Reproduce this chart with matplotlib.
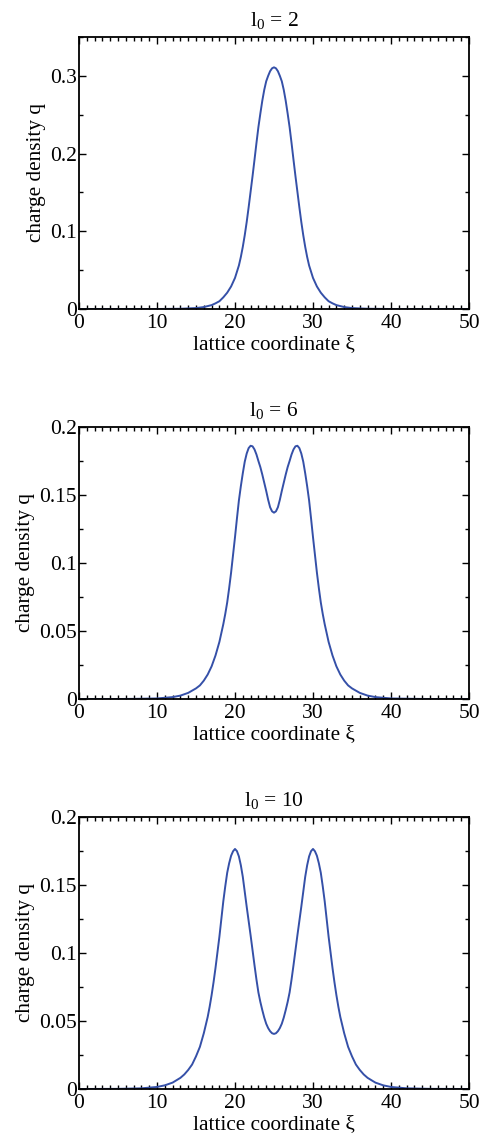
import matplotlib
matplotlib.use("Agg")
import matplotlib.pyplot as plt
from matplotlib.ticker import MultipleLocator, FuncFormatter

plt.rcParams['font.family'] = ['Liberation Serif', 'DejaVu Serif']
plt.rcParams['mathtext.fontset'] = 'custom'
plt.rcParams['mathtext.rm'] = 'Liberation Serif'
plt.rcParams['mathtext.it'] = 'Liberation Serif:italic'

# ---------------- data ----------------
titles = ["l$_\\mathrm{0}$ = 2", "l$_\\mathrm{0}$ = 6", "l$_\\mathrm{0}$ = 10"]

x1 = [0, 5, 10, 13, 15, 16, 17, 17.5, 18, 18.5,
      19, 19.5, 20, 20.5, 20.75, 21, 21.25, 21.5, 21.75, 22,
      22.25, 22.5, 22.75, 23, 23.25, 23.5, 23.75, 24, 24.25, 24.5,
      24.75, 25, 25.25, 25.5, 25.75, 26, 26.25, 26.5, 26.75, 27,
      27.25, 27.5, 27.75, 28, 28.25, 28.5, 28.75, 29, 29.25, 29.5,
      30, 30.5, 31, 31.5, 32, 32.5, 33, 34, 35, 37,
      40, 45, 50]
q1 = [0, 0, 0, 0.0003, 0.0012, 0.0025, 0.005, 0.0073, 0.010, 0.015,
      0.021, 0.029, 0.040, 0.056, 0.067, 0.080, 0.095, 0.112, 0.131, 0.151,
      0.171, 0.192, 0.2135, 0.234, 0.2515, 0.268, 0.282, 0.293, 0.300, 0.306,
      0.3097, 0.311, 0.3097, 0.306, 0.300, 0.293, 0.282, 0.268, 0.2515, 0.234,
      0.2135, 0.192, 0.171, 0.151, 0.131, 0.112, 0.095, 0.080, 0.067, 0.056,
      0.040, 0.029, 0.021, 0.015, 0.010, 0.0073, 0.005, 0.0025, 0.0012, 0.0003,
      0, 0, 0]

x2 = [0, 5, 7, 10, 12, 13, 14, 15, 15.5, 16,
      16.5, 17, 17.5, 18, 18.5, 18.75, 19, 19.25, 19.5, 19.75,
      20, 20.25, 20.5, 20.75, 21, 21.25, 21.5, 21.75, 22, 22.25,
      22.5, 22.75, 23, 23.25, 23.5, 23.75, 24, 24.25, 24.5, 24.75,
      25,
      25.25, 25.5, 25.75, 26, 26.25, 26.5, 26.75, 27, 27.25, 27.5,
      27.75, 28, 28.25, 28.5, 28.75, 29, 29.25, 29.5, 29.75, 30,
      30.25, 30.5, 30.75, 31, 31.25, 31.5, 32, 32.5, 33, 33.5,
      34, 34.5, 35, 36, 37, 38, 40, 43, 45, 50]
q2 = [0, 0, 0.0001, 0.0004, 0.0014, 0.0025, 0.0045, 0.0078, 0.010, 0.0135,
      0.018, 0.024, 0.032, 0.042, 0.055, 0.0625, 0.071, 0.0815, 0.093, 0.106,
      0.119, 0.1328, 0.146, 0.1565, 0.166, 0.1745, 0.1805, 0.1845, 0.1862, 0.1858,
      0.1835, 0.1798, 0.175, 0.1705, 0.165, 0.159, 0.153, 0.1465, 0.141, 0.138,
      0.137,
      0.138, 0.141, 0.1465, 0.153, 0.159, 0.165, 0.1705, 0.175, 0.1798, 0.1835,
      0.1858, 0.1862, 0.1845, 0.1805, 0.1745, 0.166, 0.1565, 0.146, 0.1328, 0.119,
      0.106, 0.093, 0.0815, 0.071, 0.0625, 0.055, 0.042, 0.032, 0.024, 0.018,
      0.0135, 0.010, 0.0078, 0.0045, 0.0025, 0.0014, 0.0004, 0.0001, 0, 0]

x3 = [0, 5, 8, 10, 11, 12, 13, 13.5, 14, 14.5,
      15, 15.5, 16, 16.5, 16.75, 17, 17.25, 17.5, 17.75, 18,
      18.25, 18.5, 18.75, 19, 19.25, 19.5, 19.75, 20, 20.25, 20.5,
      20.75, 21, 21.25, 21.5, 21.75, 22, 22.25, 22.5, 22.75, 23,
      23.25, 23.5, 23.75, 24, 24.25, 24.5, 24.75,
      25,
      25.25, 25.5, 25.75, 26, 26.25, 26.5, 26.75, 27, 27.25, 27.5,
      27.75, 28, 28.25, 28.5, 28.75, 29, 29.25, 29.5, 29.75, 30,
      30.25, 30.5, 30.75, 31, 31.25, 31.5, 31.75, 32, 32.25, 32.5,
      32.75, 33, 33.25, 33.5, 34, 34.5, 35, 35.5, 36, 36.5,
      37, 38, 39, 40, 42, 45, 50]
q3 = [0, 0.0001, 0.0005, 0.0015, 0.0027, 0.0047, 0.0082, 0.0107, 0.014, 0.018,
      0.024, 0.031, 0.041, 0.053, 0.0605, 0.069, 0.0785, 0.089, 0.1005, 0.112,
      0.125, 0.138, 0.149, 0.159, 0.166, 0.1715, 0.1748, 0.1765, 0.1749, 0.171,
      0.1645, 0.156, 0.145, 0.134, 0.1235, 0.113, 0.102, 0.091, 0.0805, 0.071,
      0.064, 0.058, 0.0525, 0.048, 0.0448, 0.0425, 0.041,
      0.0405,
      0.041, 0.0425, 0.0448, 0.048, 0.0525, 0.058, 0.064, 0.071, 0.0805, 0.091,
      0.102, 0.113, 0.1235, 0.134, 0.145, 0.156, 0.1645, 0.171, 0.1749, 0.1765,
      0.1748, 0.1715, 0.166, 0.159, 0.149, 0.138, 0.125, 0.112, 0.1005, 0.089,
      0.0785, 0.069, 0.0605, 0.053, 0.041, 0.031, 0.024, 0.018, 0.014, 0.0107,
      0.0082, 0.0047, 0.0027, 0.0015, 0.0005, 0.0001, 0]

xs = [x1, x2, x3]
qs = [q1, q2, q3]
ylims = [0.35, 0.2, 0.2]
ymajor = [0.1, 0.05, 0.05]
yminor = [0.05, 0.025, 0.025]

xlabel = "lattice coordinate ξ"
ylabel = "charge density q"
line_color = "#3550A8"

# ---------------- figure ----------------
W, H = 486, 1139
fig = plt.figure(figsize=(W / 100, H / 100), dpi=100)

# axes rectangles in pixels: (left, top, right, bottom)
boxes = [(79, 37, 469, 309), (79, 427, 469, 699), (79, 817, 469, 1089)]

fmt = FuncFormatter(lambda v, p: ("%g" % round(v, 4)))

for i in range(3):
    l, t, r, b = boxes[i]
    ax = fig.add_axes([l / W, 1 - b / H, (r - l) / W, (b - t) / H])
    ax.plot(xs[i], qs[i], color=line_color, lw=1.4,
            solid_joinstyle='round', solid_capstyle='round')
    ax.set_xlim(0, 50)
    ax.set_ylim(0, ylims[i])
    ax.xaxis.set_major_locator(MultipleLocator(10))
    ax.xaxis.set_minor_locator(MultipleLocator(1))
    ax.yaxis.set_major_locator(MultipleLocator(ymajor[i]))
    ax.yaxis.set_minor_locator(MultipleLocator(yminor[i]))
    ax.yaxis.set_major_formatter(fmt)
    ax.xaxis.set_major_formatter(fmt)
    ax.tick_params(which='both', direction='in', top=True, right=True,
                   labelsize=15.5, width=1.0, colors='black')
    ax.tick_params(which='major', length=5, pad=3.5)
    ax.tick_params(which='minor', length=3)
    ax.tick_params(axis='y', which='major', pad=1.5)
    for s in ax.spines.values():
        s.set_linewidth(1.3)
    ax.set_xlabel(xlabel, fontsize=15.3, labelpad=1.5)
    ax.set_ylabel(ylabel, fontsize=15.3, labelpad=3)
    ax.set_title(titles[i], fontsize=15.5, pad=8)

fig.savefig("out.png", dpi=100)
